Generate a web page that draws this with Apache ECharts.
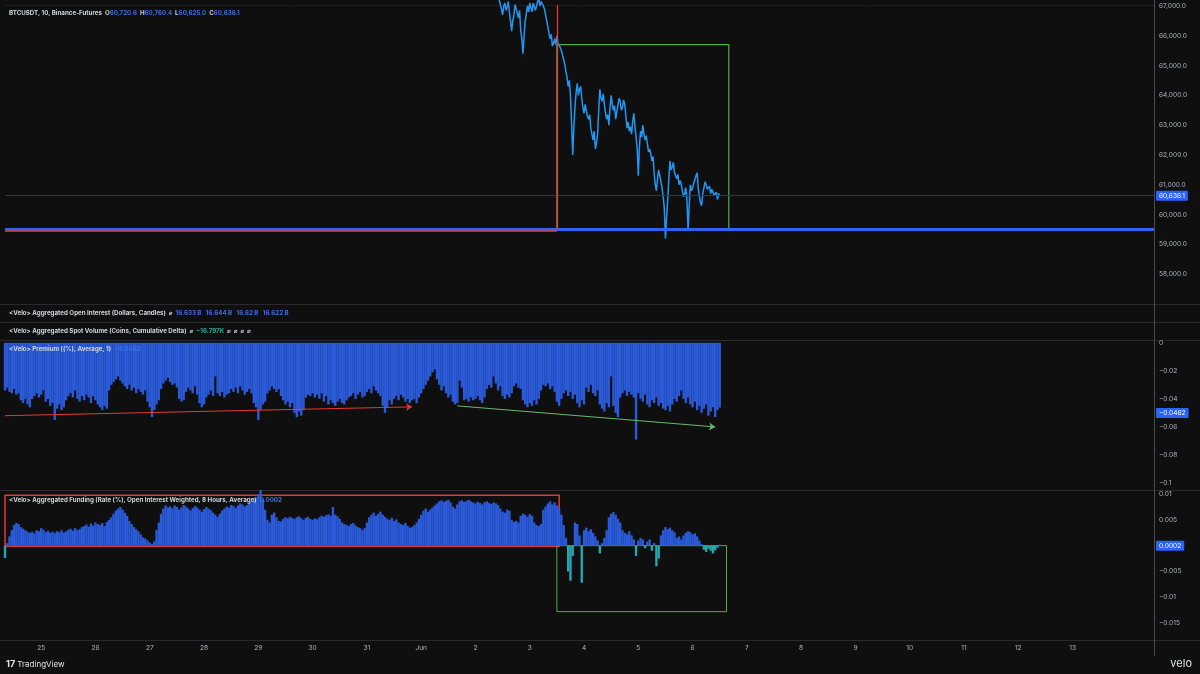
<!DOCTYPE html>
<html><head><meta charset="utf-8">
<script src="https://cdn.jsdelivr.net/npm/echarts@6/dist/echarts.min.js"></script>
<style>html,body{margin:0;padding:0;background:#0f0f0f;}#c{width:1200px;height:674px;}</style>
</head><body><div id="c"></div>
<script>
// time unit: hours relative to May 25 00:00
const startHour = -16;          // first bar (May 24 08:00)
const endHour = 492;            // right edge of the time scale
const dayLabels = ['25','26','27','28','29','30','31','Jun','2','3','4','5','6','7','8','9','10','11','12','13'];

// BTCUSDT price, 30-minute samples starting at priceStartHour
const priceStartHour = 200;
const priceStepHours = 0.5;
const priceValues = [
67500,67450,67400,67350,67300,67200,67250,66900,66700,67000,
67100,66850,66950,67150,66800,66500,66150,66500,66700,67050,
66900,66750,66600,66850,66200,65900,65400,66000,66500,66750,
67000,66800,67100,66950,66800,67100,67150,66850,66900,67150,
67250,67000,67150,67200,67000,66900,66700,66500,66300,66100,
65900,66050,65650,65750,65900,65700,66000,65750,65800,65600,
65500,65350,65300,65050,64800,64600,64300,64500,64000,63100,
62000,62900,63600,64100,64400,64000,64200,64300,63900,63600,
63400,63700,63500,63300,63200,63350,62900,62700,62500,62800,
62200,62400,62700,63500,64200,63900,63800,64050,63700,63400,
63200,63350,63000,63600,64000,63700,63500,63650,63200,63450,
63400,63900,63800,63500,63600,63850,63700,63300,62900,63100,
62800,62950,62700,63100,63400,63000,62600,62200,61300,62300,
62800,62600,63000,62700,62500,62650,62400,62100,62200,62050,
61800,61950,61400,61000,60800,61200,61500,61300,61100,60900,
60600,60200,59200,59900,60500,61200,61800,61500,61600,61750,
61400,61300,61200,61350,61000,61150,61000,60800,60600,60700,
60900,60500,59500,60300,61000,60800,60900,61050,61100,61300,
61400,60900,60600,60400,60300,60700,60900,61100,61000,60850,
60800,60950,60700,60850,60800,60650,60600,60750,60500,60700,
60636.1];

// Premium (%) hourly from startHour
const premiumValues = [-0.034,-0.032,-0.035,-0.036,-0.033,-0.037,-0.036,-0.041,-0.043,-0.040,
-0.044,-0.046,-0.040,-0.038,-0.036,-0.039,-0.037,-0.034,-0.042,-0.040,
-0.045,-0.043,-0.055,-0.047,-0.044,-0.048,-0.046,-0.041,-0.038,-0.036,
-0.039,-0.034,-0.040,-0.042,-0.038,-0.041,-0.037,-0.039,-0.043,-0.038,
-0.041,-0.044,-0.046,-0.048,-0.045,-0.047,-0.034,-0.030,-0.028,-0.026,
-0.024,-0.027,-0.029,-0.031,-0.033,-0.030,-0.034,-0.032,-0.036,-0.033,
-0.035,-0.037,-0.034,-0.042,-0.046,-0.053,-0.048,-0.044,-0.041,-0.033,
-0.029,-0.027,-0.025,-0.028,-0.030,-0.029,-0.032,-0.040,-0.042,-0.041,
-0.035,-0.032,-0.034,-0.036,-0.031,-0.037,-0.043,-0.046,-0.044,-0.039,
-0.037,-0.034,-0.038,-0.024,-0.036,-0.038,-0.035,-0.039,-0.037,-0.036,
-0.033,-0.035,-0.032,-0.036,-0.031,-0.034,-0.037,-0.035,-0.033,-0.036,
-0.043,-0.046,-0.055,-0.048,-0.044,-0.042,-0.036,-0.034,-0.031,-0.033,
-0.035,-0.033,-0.038,-0.041,-0.044,-0.042,-0.046,-0.043,-0.050,-0.053,
-0.049,-0.052,-0.048,-0.039,-0.037,-0.038,-0.036,-0.039,-0.037,-0.040,
-0.036,-0.042,-0.038,-0.044,-0.041,-0.043,-0.045,-0.042,-0.040,-0.043,
-0.044,-0.041,-0.039,-0.038,-0.036,-0.040,-0.037,-0.035,-0.039,-0.038,
-0.035,-0.033,-0.036,-0.031,-0.034,-0.036,-0.038,-0.045,-0.050,-0.046,
-0.041,-0.044,-0.040,-0.038,-0.041,-0.037,-0.039,-0.042,-0.040,-0.043,
-0.041,-0.040,-0.043,-0.039,-0.036,-0.033,-0.030,-0.027,-0.024,-0.021,
-0.019,-0.026,-0.030,-0.034,-0.031,-0.036,-0.039,-0.037,-0.042,-0.044,
-0.043,-0.027,-0.032,-0.041,-0.040,-0.042,-0.039,-0.041,-0.040,-0.038,
-0.041,-0.043,-0.039,-0.033,-0.030,-0.032,-0.024,-0.029,-0.034,-0.031,
-0.038,-0.040,-0.037,-0.039,-0.036,-0.031,-0.029,-0.032,-0.033,-0.041,
-0.044,-0.046,-0.043,-0.045,-0.041,-0.044,-0.040,-0.034,-0.030,-0.031,
-0.029,-0.033,-0.031,-0.035,-0.042,-0.045,-0.040,-0.036,-0.034,-0.038,
-0.035,-0.040,-0.037,-0.043,-0.046,-0.041,-0.044,-0.032,-0.035,-0.030,
-0.036,-0.038,-0.034,-0.044,-0.047,-0.049,-0.043,-0.046,-0.024,-0.045,
-0.050,-0.053,-0.039,-0.036,-0.034,-0.038,-0.035,-0.037,-0.039,-0.069,
-0.036,-0.040,-0.042,-0.037,-0.044,-0.046,-0.041,-0.043,-0.039,-0.045,
-0.043,-0.047,-0.048,-0.045,-0.049,-0.044,-0.040,-0.042,-0.038,-0.034,
-0.040,-0.043,-0.039,-0.044,-0.046,-0.042,-0.048,-0.045,-0.050,-0.047,
-0.044,-0.052,-0.049,-0.046,-0.053,-0.048,-0.0462];

// Aggregated funding rate (%) hourly from startHour
const fundingValues = [-0.0024,0.0005,0.0018,
0.0030,0.0040,0.0044,0.0042,
0.0036,0.0033,0.0030,0.0027,
0.0025,0.0027,0.0024,0.0030,0.0028,
0.0034,0.0031,0.0026,0.0029,0.0025,
0.0027,0.0024,0.0028,0.0026,0.0030,0.0025,0.0028,0.0031,
0.0033,0.0029,0.0034,0.0030,0.0032,0.0036,0.0038,
0.0041,0.0037,0.0043,0.0039,0.0045,0.0042,0.0040,0.0044,0.0038,0.0046,0.0050,
0.0055,0.0062,0.0068,0.0072,0.0075,0.0070,0.0064,0.0058,
0.0048,0.0042,0.0036,0.0032,0.0028,0.0022,
0.0016,0.0014,0.0010,0.0006,0.0003,0.0008,
0.0030,0.0045,0.0062,0.0072,0.0078,0.0074,
0.0076,0.0072,0.0078,0.0075,0.0070,0.0074,0.0079,0.0076,0.0072,0.0068,0.0073,0.0077,0.0074,0.0070,0.0066,0.0071,0.0075,0.0072,0.0069,0.0064,
0.0060,0.0056,0.0062,0.0068,
0.0072,0.0076,0.0074,0.0079,0.0077,0.0073,0.0078,0.0082,0.0080,0.0076,0.0079,0.0083,0.0086,0.0090,0.0094,0.0100,0.0108,
0.0090,0.0070,0.0050,0.0045,
0.0060,0.0064,0.0055,0.0048,
0.0047,0.0052,0.0055,0.0053,0.0056,0.0054,0.0052,0.0055,0.0057,0.0053,0.0050,0.0054,0.0056,0.0052,0.0050,0.0053,
0.0051,0.0055,0.0058,0.0056,0.0059,0.0061,
0.0058,0.0075,0.0060,0.0057,0.0052,
0.0045,0.0042,0.0040,0.0038,0.0042,0.0044,0.0039,0.0036,0.0034,
0.0030,0.0034,0.0045,0.0055,
0.0060,0.0064,0.0058,0.0062,0.0066,0.0060,0.0056,
0.0052,0.0050,0.0054,0.0048,0.0051,
0.0045,0.0042,0.0040,0.0044,0.0038,0.0035,0.0036,0.0040,
0.0045,0.0052,0.0060,0.0068,
0.0072,0.0066,0.0070,0.0074,0.0078,0.0082,
0.0086,0.0088,0.0085,0.0087,0.0089,0.0084,
0.0076,0.0072,0.0080,
0.0086,0.0088,0.0085,0.0087,0.0089,0.0086,
0.0084,0.0082,0.0085,0.0083,0.0080,0.0084,0.0086,0.0083,0.0081,0.0084,0.0082,0.0079,
0.0072,0.0066,0.0064,0.0070,0.0068,
0.0050,0.0046,0.0048,0.0045,
0.0058,0.0062,0.0060,0.0056,0.0061,0.0058,
0.0045,0.0040,0.0038,0.0042,
0.0070,0.0076,0.0082,0.0086,0.0080,0.0084,0.0078,
0.0072,0.0060,0.0040,0.0015,
-0.0050,-0.0068,-0.0020,
0.0045,0.0042,0.0020,
-0.0072,
0.0030,0.0035,0.0028,0.0032,0.0025,0.0018,
0.0010,-0.0015,
0.0005,0.0015,0.0030,
0.0055,0.0062,0.0065,0.0060,0.0052,0.0045,
0.0030,0.0025,0.0022,0.0028,0.0020,0.0012,
-0.0020,
0.0010,0.0015,0.0012,-0.0005,0.0008,
0.0012,-0.0010,0.0005,
-0.0040,-0.0025,
0.0020,0.0030,0.0036,0.0032,0.0035,0.0030,0.0026,
0.0015,0.0018,0.0012,0.0020,
0.0025,0.0028,0.0026,0.0022,0.0024,
0.0018,0.0010,0.0003,
-0.0008,-0.0012,-0.0006,-0.0010,-0.0015,-0.0009,-0.0004,0.0002];

// axis label values
const priceTicks = [58000,59000,60000,61000,62000,63000,64000,65000,66000,67000];
const premiumTicks = [0,-0.02,-0.04,-0.06,-0.08,-0.1];
const fundingTicks = [0.01,0.005,-0.005,-0.01,-0.015];

// annotation levels
const supportLevel = 59520;
const boxTopPrice = 65700;
const boxStartHour = 228;
const boxEndHour = 304;
const premiumRedArrow = [[-16,-0.052],[164,-0.0457]];
const premiumGreenArrow = [[184,-0.045],[298,-0.060]];
const fundingRedBox = [[-16,0.0098],[229,-0.0001]];
const fundingGreenBox = [[228,0.0],[303,-0.0128]];

const FONT = 'Inter, "DejaVu Sans", sans-serif';
const BLUE = '#2b5ad8';
const TEAL = '#22a7b3';
const TXT = '#d1d4dc';
const AX = '#b2b5be';
const TAG = '#2962ff';
const LFS = 6.2;   // legend font size
const AFS = 6.6;   // axis font size

const minus = v => (v < 0 ? '\u2212' : '') + Math.abs(v);
const fmtPrice = v => v.toLocaleString('en-US',{minimumFractionDigits:1,maximumFractionDigits:1});

const priceData = priceValues.map((v,i)=>[priceStartHour+i*priceStepHours, v]);
const premiumData = premiumValues.map((v,i)=>[startHour+i, v]);
const fundingData = fundingValues.map((v,i)=>[startHour+i, v]);
const lastPrice = priceValues[priceValues.length-1];
const lastPremium = premiumValues[premiumValues.length-1];
const lastFunding = fundingValues[fundingValues.length-1];

const baseX = {type:'value', min:startHour, max:endHour, axisLine:{show:false}, axisTick:{show:false}, splitLine:{show:false}, axisLabel:{show:false}};
const baseY = {type:'value', position:'right', axisLine:{show:false}, axisTick:{show:false}, splitLine:{show:false},
  axisLabel:{color:AX, fontSize:AFS, fontFamily:FONT, margin:5}};

const tagLabel = (text) => ({show:true, position:'end', distance:2, formatter:text, color:'#fff', backgroundColor:TAG,
  padding:[2,3,1,3], fontSize:AFS, fontFamily:FONT, borderRadius:1});
const hidden = 'rgba(0,0,0,0)';

const legendStyle = {fontSize:LFS, color:TXT, fontFamily:FONT,
  rich:{w:{fontSize:LFS,color:TXT,fontFamily:FONT}, b:{fontSize:LFS,color:'#3d6ee8',fontFamily:FONT}, t:{fontSize:LFS,color:'#22ab94',fontFamily:FONT}}};

const chart = echarts.init(document.getElementById('c'), null, {renderer:'canvas'});
chart.setOption({
  backgroundColor:'#0f0f0f',
  animation:false,
  title:[
    {left:9, top:10, padding:0, text:'{w|BTCUSDT, 10, Binance-Futures  O}{b|60,720.6}{w|  H}{b|60,760.4}{w|  L}{b|60,625.0}{w|  C}{b|' + fmtPrice(lastPrice) + '}', textStyle:legendStyle},
    {left:9, top:310, padding:0, text:'{w|<Velo> Aggregated Open Interest (Dollars, Candles)  \u2300  }{b|16.633 B   16.644 B   16.62 B   16.622 B}', textStyle:legendStyle},
    {left:9, top:328, padding:0, text:'{w|<Velo> Aggregated Spot Volume (Coins, Cumulative Delta)  \u2300  }{t|\u221216.797K}{w|  \u2300  \u2300  \u2300  \u2300}', textStyle:legendStyle},
    {left:9, top:346, padding:0, text:'{w|<Velo> Premium ((%), Average, 1)  }{b|' + minus(lastPremium) + '}', textStyle:legendStyle},
    {left:9, top:497, padding:0, text:'{w|<Velo> Aggregated Funding (Rate (%), Open Interest Weighted, 8 Hours, Average)  }{b|' + lastFunding + '}', textStyle:legendStyle}
  ],
  grid:[
    {left:5, right:46, top:0, height:304},
    {left:5, right:46, top:340, height:150},
    {left:5, right:46, top:490, height:150}
  ],
  xAxis:[
    Object.assign({gridIndex:0}, baseX),
    Object.assign({gridIndex:1}, baseX),
    Object.assign({}, baseX, {gridIndex:2, axisLabel:{show:true, color:AX, fontSize:AFS, fontFamily:FONT, margin:5,
      customValues: dayLabels.map((_,i)=>i*24), formatter: v => dayLabels[Math.round(v/24)]}})
  ],
  yAxis:[
    Object.assign({}, baseY, {gridIndex:0, min:57000, max:67200, axisLabel:Object.assign({}, baseY.axisLabel, {customValues:priceTicks, formatter:fmtPrice})}),
    Object.assign({}, baseY, {gridIndex:1, min:-0.105, max:0.002, axisLabel:Object.assign({}, baseY.axisLabel, {customValues:premiumTicks, formatter:minus})}),
    Object.assign({}, baseY, {gridIndex:2, min:-0.0183, max:0.0108, axisLabel:Object.assign({}, baseY.axisLabel, {customValues:fundingTicks, formatter:minus})})
  ],
  series:[
    {type:'line', xAxisIndex:0, yAxisIndex:0, data:priceData, symbol:'none', clip:true, silent:true, z:3,
      lineStyle:{color:'#2196f3', width:1.5},
      markLine:{silent:true, symbol:'none', animation:false, data:[
        {yAxis:lastPrice, lineStyle:{color:'#363942', width:1, type:'solid'}, label:tagLabel(fmtPrice(lastPrice))},
        {yAxis:supportLevel, lineStyle:{color:'#2f63f5', width:3, type:'solid'}, label:{show:false}},
        [{coord:[startHour, supportLevel-50], lineStyle:{color:'#e03c3c', width:1.5, type:'solid'}, label:{show:false}}, {coord:[boxStartHour, supportLevel-50]}],
        [{coord:[boxStartHour, supportLevel], lineStyle:{color:'#e53935', width:1.3, type:'solid'}, label:{show:false}}, {coord:[boxStartHour, 67040]}]
      ]},
      markArea:{silent:true, data:[[{coord:[boxStartHour, boxTopPrice], itemStyle:{color:hidden, borderColor:'#4caf50', borderWidth:1.2}}, {coord:[boxEndHour, supportLevel]}]]}
    },
    {type:'bar', xAxisIndex:1, yAxisIndex:1, data:premiumData, barWidth:2.4, silent:true, itemStyle:{color:BLUE},
      markLine:{silent:true, animation:false, symbol:['none','arrow'], symbolSize:6, data:[
        [{coord:premiumRedArrow[0], lineStyle:{color:'#e53935', width:1, type:'solid'}, label:{show:false}}, {coord:premiumRedArrow[1]}],
        [{coord:premiumGreenArrow[0], lineStyle:{color:'#66bb6a', width:1, type:'solid'}, label:{show:false}}, {coord:premiumGreenArrow[1]}],
        {yAxis:lastPremium, symbol:'none', lineStyle:{color:hidden, width:0}, label:tagLabel(minus(lastPremium))}
      ]}
    },
    {type:'bar', xAxisIndex:2, yAxisIndex:2, data:fundingData, barWidth:2.4, silent:true,
      itemStyle:{color: p => p.value[1] >= 0 ? BLUE : TEAL},
      markLine:{silent:true, animation:false, symbol:'none', data:[
        {yAxis:lastFunding, lineStyle:{color:hidden, width:0}, label:tagLabel(String(lastFunding))}
      ]},
      markArea:{silent:true, data:[
        [{coord:fundingRedBox[0], itemStyle:{color:hidden, borderColor:'#e03c3c', borderWidth:1.5}}, {coord:fundingRedBox[1]}],
        [{coord:fundingGreenBox[0], itemStyle:{color:hidden, borderColor:'#4caf50', borderWidth:1}}, {coord:fundingGreenBox[1]}]
      ]}
    }
  ],
  graphic:[
    {type:'line', silent:true, shape:{x1:0,y1:304.5,x2:1200,y2:304.5}, style:{stroke:'#2a2a2a', lineWidth:1}},
    {type:'line', silent:true, shape:{x1:0,y1:322.5,x2:1200,y2:322.5}, style:{stroke:'#2a2a2a', lineWidth:1}},
    {type:'line', silent:true, shape:{x1:0,y1:340.5,x2:1200,y2:340.5}, style:{stroke:'#2a2a2a', lineWidth:1}},
    {type:'line', silent:true, shape:{x1:0,y1:490.5,x2:1200,y2:490.5}, style:{stroke:'#2a2a2a', lineWidth:1}},
    {type:'line', silent:true, shape:{x1:0,y1:640.5,x2:1200,y2:640.5}, style:{stroke:'#2a2a2a', lineWidth:1}},
    {type:'line', silent:true, shape:{x1:5,y1:5.5,x2:1154,y2:5.5}, style:{stroke:'#1f1f1f', lineWidth:1}},
    {type:'line', silent:true, shape:{x1:1154.5,y1:0,x2:1154.5,y2:656}, style:{stroke:'#4a4a4a', lineWidth:1}},
    {type:'text', silent:true, left:6, top:660, style:{text:'{l|17} TradingView', fill:'#e0e3eb', font:'8px ' + FONT,
      rich:{l:{fontWeight:'bold', fontSize:9, fill:'#e0e3eb', fontFamily:FONT}}}},
    {type:'text', silent:true, right:8, top:658, style:{text:'velo', fill:'#e0e3eb', font:'11px ' + FONT}}
  ]
});
</script></body></html>
